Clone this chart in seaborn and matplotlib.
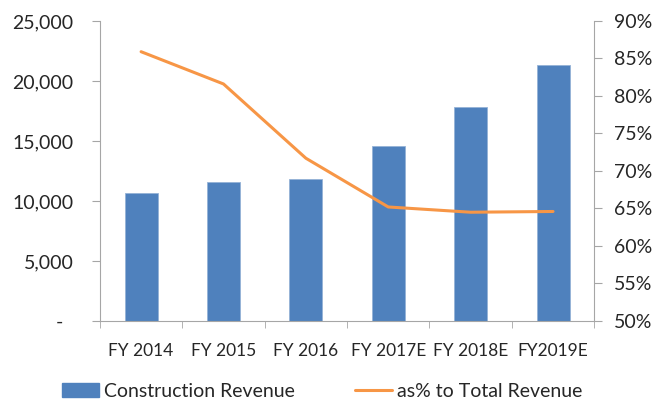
import numpy as np
import pandas as pd
import matplotlib
matplotlib.use('Agg')
import matplotlib.pyplot as plt
import seaborn as sns
from matplotlib.ticker import FuncFormatter
from matplotlib.lines import Line2D
from matplotlib.patches import Patch

# data
years = ['FY 2014', 'FY 2015', 'FY 2016', 'FY 2017E', 'FY 2018E', 'FY2019E']
construction_revenue = [10650, 11600, 11800, 14600, 17800, 21300]
pct_total_revenue = [85.9, 81.6, 71.7, 65.2, 64.5, 64.6]

bar_color = '#4F81BD'
line_color = '#F79646'
axis_color = '#A6A6A6'

sns.set_style('white')
plt.rcParams['font.family'] = ['Lato', 'DejaVu Sans']

df = pd.DataFrame({'year': years, 'rev': construction_revenue, 'pct': pct_total_revenue})

fig, ax = plt.subplots(figsize=(6.53, 4.03), dpi=100)
fig.subplots_adjust(left=0.153, right=0.910, top=0.948, bottom=0.2035)

sns.barplot(data=df, x='year', y='rev', color=bar_color, width=0.4,
            saturation=1, ax=ax, edgecolor='#95B3D7', linewidth=0.6)
ax.set_ylim(0, 25000)
ax.set_xlim(-0.5, len(years) - 0.5)
ax.set_yticks(np.arange(0, 25001, 5000))
# zero shows as "-" like an accounting format
ax.yaxis.set_major_formatter(FuncFormatter(lambda v, p: '-  ' if v == 0 else f'{int(v):,}'))
ax.set_xlabel('')
ax.set_ylabel('')

ax2 = ax.twinx()
sns.lineplot(x=np.arange(len(years)), y=df['pct'], color=line_color, lw=2.2, ax=ax2)
ax2.set_ylim(50, 90)
ax2.set_yticks(np.arange(50, 91, 5))
ax2.yaxis.set_major_formatter(FuncFormatter(lambda v, p: f'{int(v)}%'))
ax2.set_ylabel('')
ax2.set_xlim(-0.5, len(years) - 0.5)

for a in (ax, ax2):
    a.spines['top'].set_visible(False)
    for side in ['left', 'right', 'bottom']:
        a.spines[side].set_color(axis_color)
        a.spines[side].set_linewidth(0.8)
ax.spines['right'].set_visible(False)
ax2.spines['left'].set_visible(False)
ax2.spines['bottom'].set_visible(False)

ax.tick_params(axis='y', direction='out', length=6, color=axis_color, labelsize=14, pad=13, left=True)
ax2.tick_params(axis='y', direction='out', length=6, color=axis_color, labelsize=14, pad=8.5, right=True)

ax.set_xticks(np.arange(len(years)))
ax.set_xticklabels(years)
ax.tick_params(axis='x', length=0, labelsize=12.5, pad=16)
ax.set_xticks(np.arange(-0.5, len(years), 1), minor=True)
ax.tick_params(axis='x', which='minor', direction='out', length=5, color=axis_color, bottom=True)

handles = [Patch(facecolor=bar_color, edgecolor=bar_color),
           Line2D([0], [0], color=line_color, lw=2.2)]
fig.legend(handles, ['Construction Revenue', 'as% to Total Revenue'],
           loc='lower center', bbox_to_anchor=(0.493, -0.035), ncol=2, frameon=False,
           fontsize=14, columnspacing=3.1, handlelength=1.9, handletextpad=0.25)

fig.savefig('out.png', dpi=100)
